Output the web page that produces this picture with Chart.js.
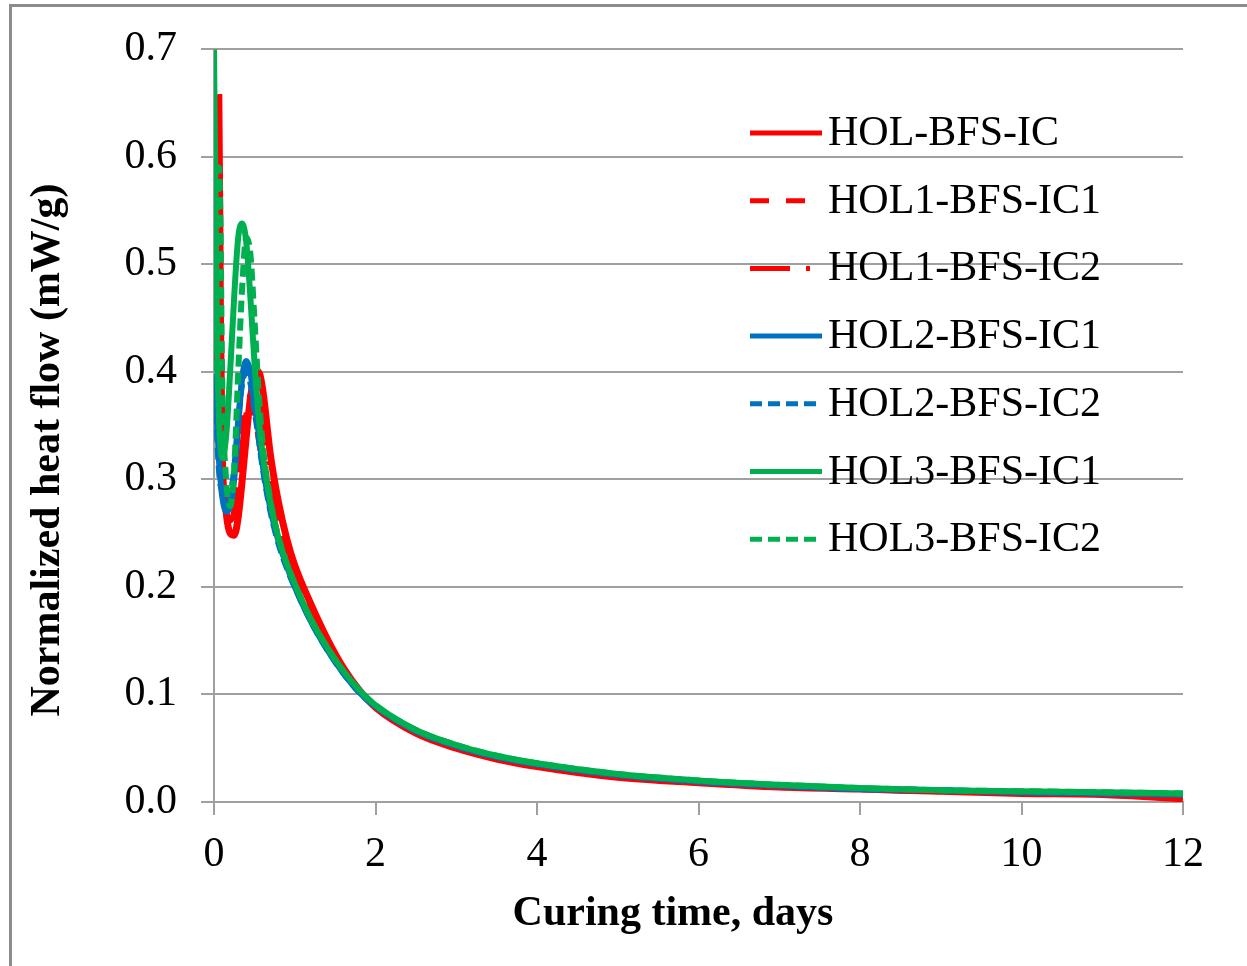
<!DOCTYPE html>
<html>
<head>
<meta charset="utf-8">
<script src="https://cdn.jsdelivr.net/npm/chart.js@4/dist/chart.umd.min.js"></script>
<style>
  html, body { margin: 0; padding: 0; background: #fff; }
  #frame { position: absolute; left: 9px; top: 4px; width: 1300px; height: 1000px;
           border-left: 3px solid #8c8c8c; border-top: 3px solid #8c8c8c; box-sizing: border-box; }
  #wrap { position: absolute; left: 0; top: 0; width: 1247px; height: 966px; }
</style>
</head>
<body>
<div id="frame"></div>
<div id="wrap"><canvas id="c" width="1247" height="966"></canvas></div>
<script>
// Curing time (days)
const days = [0, 0.02, 0.04, 0.06, 0.08, 0.1, 0.15, 0.2, 0.25, 0.3, 0.35, 0.4, 0.45, 0.5, 0.55, 0.6,
  0.7, 0.8, 0.9, 1.0, 1.2, 1.4, 1.6, 1.8, 2.0, 2.5, 3.0, 3.5, 4.0, 5.0, 6.0, 7.0, 8.0, 9.0, 10, 11, 12];

const seriesNames = ["HOL-BFS-IC", "HOL1-BFS-IC1", "HOL1-BFS-IC2", "HOL2-BFS-IC1", "HOL2-BFS-IC2", "HOL3-BFS-IC1", "HOL3-BFS-IC2"];

const holBfsIc = [0.42, 0.52, 0.63, 0.655, 0.45, 0.33, 0.27, 0.25, 0.248, 0.265, 0.30, 0.34, 0.375, 0.395, 0.40, 0.385,
  0.322, 0.278, 0.245, 0.22, 0.184, 0.152, 0.125, 0.104, 0.088, 0.064, 0.050, 0.040, 0.033, 0.023, 0.018, 0.014, 0.012, 0.010, 0.008, 0.007, 0.003];
const hol1Ic1 = [0.40, 0.48, 0.56, 0.58, 0.42, 0.32, 0.275, 0.268, 0.28, 0.31, 0.345, 0.37, 0.375, 0.36, 0.34, 0.315,
  0.285, 0.255, 0.23, 0.21, 0.177, 0.148, 0.123, 0.103, 0.088, 0.065, 0.051, 0.041, 0.034, 0.024, 0.018, 0.015, 0.012, 0.010, 0.009, 0.008, 0.006];
const hol1Ic2 = [0.41, 0.47, 0.54, 0.55, 0.40, 0.31, 0.27, 0.262, 0.27, 0.30, 0.33, 0.36, 0.378, 0.38, 0.37, 0.345,
  0.30, 0.265, 0.238, 0.216, 0.18, 0.15, 0.124, 0.104, 0.088, 0.065, 0.051, 0.041, 0.034, 0.024, 0.018, 0.015, 0.012, 0.010, 0.009, 0.008, 0.006];
const hol2Ic1 = [0.36, 0.39, 0.35, 0.32, 0.30, 0.285, 0.27, 0.275, 0.30, 0.35, 0.395, 0.41, 0.40, 0.37, 0.345, 0.315,
  0.272, 0.242, 0.22, 0.20, 0.168, 0.142, 0.12, 0.102, 0.089, 0.066, 0.052, 0.042, 0.035, 0.025, 0.019, 0.015, 0.012, 0.011, 0.009, 0.008, 0.007];
const hol2Ic2 = [0.37, 0.40, 0.34, 0.31, 0.295, 0.29, 0.28, 0.285, 0.31, 0.355, 0.39, 0.40, 0.39, 0.365, 0.34, 0.312,
  0.27, 0.24, 0.218, 0.20, 0.168, 0.142, 0.12, 0.102, 0.089, 0.066, 0.052, 0.042, 0.035, 0.025, 0.019, 0.015, 0.012, 0.011, 0.009, 0.008, 0.007];
const hol3Ic1 = [0.70, 0.55, 0.42, 0.36, 0.33, 0.32, 0.34, 0.40, 0.47, 0.525, 0.538, 0.52, 0.47, 0.41, 0.36, 0.325,
  0.278, 0.245, 0.222, 0.203, 0.17, 0.144, 0.122, 0.104, 0.09, 0.067, 0.053, 0.043, 0.036, 0.026, 0.020, 0.016, 0.013, 0.011, 0.010, 0.009, 0.008];
const hol3Ic2 = [0.40, 0.46, 0.53, 0.59, 0.54, 0.40, 0.30, 0.275, 0.31, 0.40, 0.48, 0.525, 0.51, 0.45, 0.385, 0.335,
  0.28, 0.246, 0.222, 0.203, 0.17, 0.144, 0.122, 0.104, 0.09, 0.067, 0.053, 0.043, 0.036, 0.026, 0.020, 0.016, 0.013, 0.011, 0.010, 0.009, 0.008];

const yTicks = [0, 0.1, 0.2, 0.3, 0.4, 0.5, 0.6, 0.7];
const xTicks = [0, 2, 4, 6, 8, 10, 12];

const allValues = [holBfsIc, hol1Ic1, hol1Ic2, hol2Ic1, hol2Ic2, hol3Ic1, hol3Ic2];
const colors = ["#FF0000", "#FF0000", "#FF0000", "#0070C0", "#0070C0", "#00B050", "#00B050"];
const dashes = [[], [19, 17], [40, 16, 4, 16], [], [12, 6], [], [12, 6]];

const FONT = '"Liberation Serif", "Times New Roman", serif';
const GRID = '#a0a0a0';

const datasets = allValues.map((vals, i) => ({
  label: seriesNames[i],
  data: days.map((d, j) => ({ x: d, y: vals[j] })),
  borderColor: colors[i],
  backgroundColor: colors[i],
  borderWidth: i === 0 ? 7 : 6,
  borderDash: dashes[i],
  borderCapStyle: 'butt',
  pointRadius: 0,
  fill: false,
  cubicInterpolationMode: 'monotone',
  order: allValues.length - 1 - i
}));

const overlay = {
  id: 'overlay',
  afterDraw(chart) {
    const ctx = chart.ctx;
    ctx.save();
    // legend
    const lx0 = 750, lx1 = 822, tx = 828, y0 = 133, dy = 67.7;
    ctx.font = '42px ' + FONT;
    ctx.textBaseline = 'middle';
    ctx.textAlign = 'left';
    chart.data.datasets.forEach((ds, i) => {
      const y = y0 + i * dy;
      ctx.beginPath();
      ctx.setLineDash(ds.borderDash || []);
      ctx.lineCap = 'butt';
      ctx.lineWidth = 5;
      ctx.strokeStyle = ds.borderColor;
      ctx.moveTo(lx0, y);
      ctx.lineTo(lx1, y);
      ctx.stroke();
      ctx.setLineDash([]);
      ctx.fillStyle = '#000';
      ctx.fillText(ds.label, tx, y + 1);
    });
    // axis titles
    ctx.font = 'bold 42px ' + FONT;
    ctx.textAlign = 'center';
    ctx.fillStyle = '#000';
    ctx.fillText('Curing time, days', 673, 914);
    ctx.translate(48, 450);
    ctx.rotate(-Math.PI / 2);
    ctx.fillText('Normalized heat flow (mW/g)', 0, 0);
    ctx.restore();
  }
};

new Chart(document.getElementById('c'), {
  type: 'line',
  data: { datasets },
  options: {
    responsive: false,
    animation: false,
    events: [],
    layout: { padding: { left: 0, top: 47, right: 64, bottom: 0 } },
    plugins: { legend: { display: false }, tooltip: { enabled: false }, title: { display: false } },
    scales: {
      x: {
        type: 'linear', min: 0, max: 12,
        afterBuildTicks(s) { s.ticks = xTicks.map(v => ({ value: v })); },
        afterFit(s) { s.height = 164; },
        grid: { drawOnChartArea: false, drawTicks: true, tickLength: 13, color: GRID, lineWidth: 2 },
        border: { display: true, color: GRID, width: 2 },
        ticks: { font: { family: FONT, size: 42 }, color: '#000', padding: 15, maxRotation: 0, autoSkip: false,
                 callback: v => String(v) }
      },
      y: {
        type: 'linear', min: 0, max: 0.7,
        afterBuildTicks(s) { s.ticks = yTicks.map(v => ({ value: v })); },
        afterFit(s) { s.width = 214; },
        grid: { drawOnChartArea: true, drawTicks: true, tickLength: 13, color: GRID, lineWidth: 2 },
        border: { display: true, color: GRID, width: 2 },
        ticks: { font: { family: FONT, size: 42 }, color: '#000', padding: 24, autoSkip: false,
                 callback: v => v.toFixed(1) }
      }
    }
  },
  plugins: [overlay]
});
</script>
</body>
</html>
